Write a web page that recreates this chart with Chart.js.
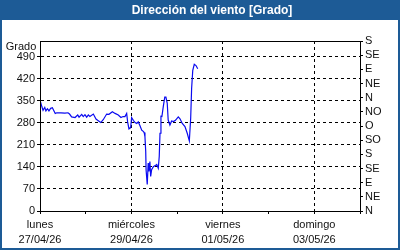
<!DOCTYPE html>
<html>
<head>
<meta charset="utf-8">
<script src="https://cdn.jsdelivr.net/npm/chart.js@4"></script>
<style>
  html, body { margin: 0; padding: 0; background: #fff; }
  canvas { display: block; }
</style>
</head>
<body>
<canvas id="windChart" width="400" height="250"></canvas>
<script>
// horas desde lunes 27/04/26 00:00
const hours = [0, 0.5, 1.0, 1.6, 2.5, 3.1, 3.9, 4.7, 5.6, 6.5, 8.0, 8.9, 11.0, 13.1, 14.7, 15.5,
  16.6, 18.4, 19.8, 20.5, 21.9, 22.7, 23.6, 24.5, 25.4, 26.2, 28.0, 29.4, 30.6, 31.9, 33.2,
  35.0, 36.2, 38.0, 39.4, 41.1, 42.5, 43.6, 44.6, 45.5, 46.0, 46.7, 47.6, 48.1, 49.0, 49.9,
  50.8, 51.6, 52.5, 53.4, 54.2, 54.7, 55.1, 55.5, 55.7, 56.3, 56.8, 57.2, 57.7, 58.1, 58.6,
  59.5, 60.7, 61.3, 62.1, 62.6, 63.0, 63.5, 64.0, 64.7, 65.5, 66.1, 66.8, 67.3, 68.2, 69.1,
  70.1, 71.1, 72.6, 73.5, 74.7, 76.1, 77.3, 78.4, 79.1, 79.6, 80.2, 81.0, 81.9, 82.8];
const degrees = [336, 342, 331, 320, 329, 318, 325, 318, 326, 328, 310, 312, 312, 311, 312, 308,
  299, 297, 305, 298, 307, 300, 306, 298, 305, 300, 308, 292, 287, 281, 290,
  308, 307, 315, 310, 305, 297, 300, 300, 310, 283, 261, 265, 297, 288, 281,
  278, 283, 271, 257, 253, 249, 236, 190, 130, 84, 152, 126, 157, 110, 131,
  141, 145, 148, 136, 173, 247, 301, 300, 331, 362, 362, 342, 289, 273, 286,
  284, 288, 299, 293, 278, 268, 247, 223, 294, 389, 447, 466, 462, 452];

const dayNames = ['lunes', 'martes', 'miércoles', 'jueves', 'viernes', 'sábado', 'domingo', 'lunes'];
const dayDates = ['27/04/26', '28/04/26', '29/04/26', '30/04/26', '01/05/26', '02/05/26', '03/05/26', '04/05/26'];
const gradoTicks = [0, 70, 140, 210, 280, 350, 420, 490];
const rumbos = ['N', 'NE', 'E', 'SE', 'S', 'SO', 'O', 'NO', 'N', 'NE', 'E', 'SE', 'S'];

const frameBlue = '#1d5b96';
const textColor = '#111';
const tickFont = { family: 'Liberation Sans', size: 11 };

const framePlugin = {
  id: 'frame',
  beforeDraw(chart) {
    const ctx = chart.ctx;
    ctx.save();
    ctx.fillStyle = frameBlue;
    ctx.fillRect(0, 0, chart.width, chart.height);
    ctx.fillStyle = '#fff';
    ctx.fillRect(2, 20, chart.width - 4, chart.height - 22);
    ctx.font = 'bold 12px "Liberation Sans"';
    ctx.fillStyle = '#fff';
    ctx.textAlign = 'center';
    ctx.textBaseline = 'middle';
    ctx.fillText('Dirección del viento [Grado]', 212, 11);
    ctx.restore();
  },
  afterDraw(chart) {
    const { ctx, chartArea } = chart;
    ctx.save();
    ctx.strokeStyle = '#000';
    ctx.lineWidth = 1;
    ctx.strokeRect(chartArea.left + 0.5, chartArea.top + 0.5,
      chartArea.right - chartArea.left, chartArea.bottom - chartArea.top);
    ctx.font = '11px "Liberation Sans"';
    ctx.fillStyle = textColor;
    ctx.textAlign = 'center';
    ctx.textBaseline = 'middle';
    ctx.fillText('Grado', 21, 47);
    ctx.restore();
  }
};

new Chart(document.getElementById('windChart'), {
  type: 'line',
  data: {
    datasets: [{
      data: hours.map((h, i) => ({ x: h, y: degrees[i] })),
      borderColor: '#0a0af0',
      borderWidth: 1.2,
      pointRadius: 0,
      tension: 0,
      fill: false
    }]
  },
  options: {
    responsive: false,
    animation: false,
    devicePixelRatio: 1,
    layout: { padding: { top: 41, left: 0, right: 0, bottom: 0 } },
    plugins: { legend: { display: false }, tooltip: { enabled: false } },
    scales: {
      x: {
        type: 'linear',
        min: 0,
        max: 168,
        afterFit(scale) { scale.height = 39; },
        afterBuildTicks(scale) {
          scale.ticks = dayNames.map((_, i) => ({ value: i * 24 }));
        },
        ticks: {
          autoSkip: false,
          maxRotation: 0,
          padding: 3,
          color: textColor,
          font: { ...tickFont, lineHeight: 1.4 },
          callback: (v) => {
            const d = Math.round(v / 24);
            return (d % 2 === 0 && d < 7) ? [dayNames[d], dayDates[d]] : '';
          }
        },
        grid: {
          color: (c) => (c.tick && c.tick.value % 48 === 0) ? '#000' : 'rgba(0,0,0,0)',
          tickColor: '#000',
          tickLength: 3
        },
        border: { color: '#000', dash: [3, 3] }
      },
      y: {
        position: 'left',
        min: 0,
        max: 540,
        afterFit(scale) { scale.width = 40; },
        afterBuildTicks(scale) {
          scale.ticks = gradoTicks.map(v => ({ value: v }));
        },
        ticks: { autoSkip: false, color: textColor, font: tickFont, padding: 2 },
        grid: { color: '#000', tickColor: '#000', tickLength: 3 },
        border: { color: '#000', dash: [3, 3] }
      },
      y2: {
        position: 'right',
        min: 0,
        max: 540,
        afterFit(scale) { scale.width = 40; },
        afterBuildTicks(scale) {
          scale.ticks = rumbos.map((_, i) => ({ value: i * 45 }));
        },
        ticks: {
          autoSkip: false,
          color: textColor,
          font: tickFont,
          padding: 2,
          callback: (v) => rumbos[Math.round(v / 45)]
        },
        grid: { drawOnChartArea: false, color: '#000', tickLength: 3 },
        border: { color: '#000' }
      }
    }
  },
  plugins: [framePlugin]
});
</script>
</body>
</html>
